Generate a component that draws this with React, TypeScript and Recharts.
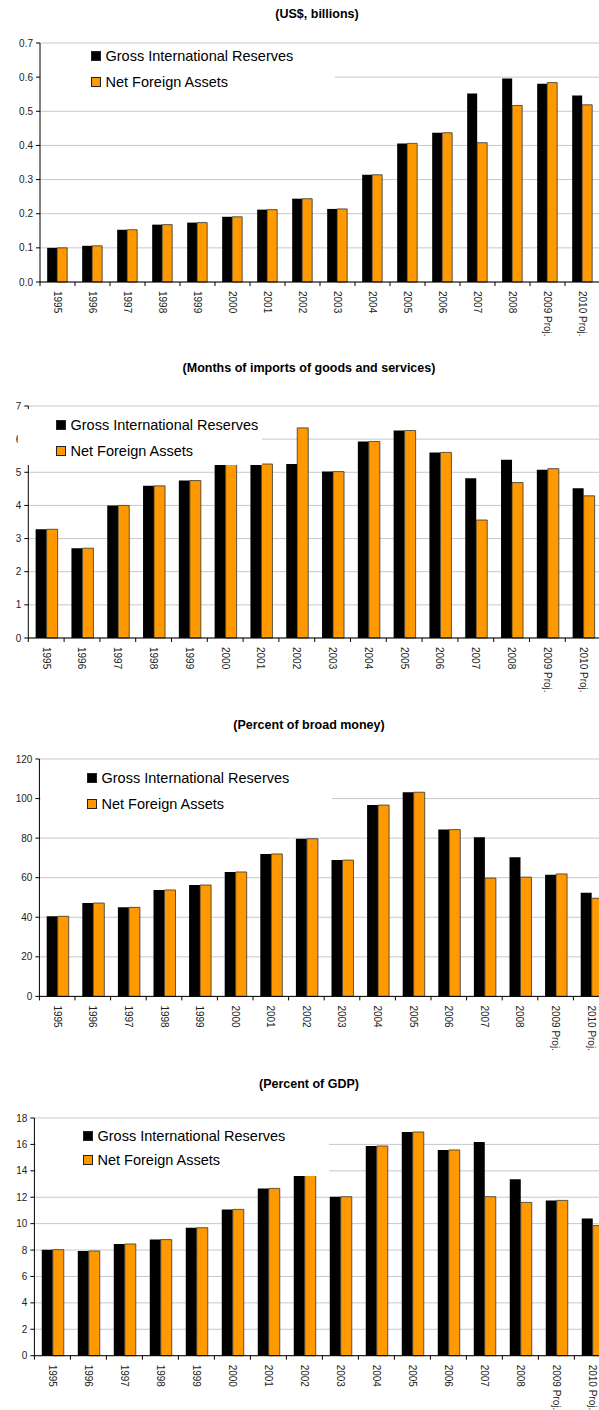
import { BarChart, Bar, XAxis, YAxis, CartesianGrid, Legend } from "recharts";

const years = ["1995", "1996", "1997", "1998", "1999", "2000", "2001", "2002", "2003", "2004", "2005", "2006", "2007", "2008", "2009 Proj.", "2010 Proj."];
const seriesNames = ["Gross International Reserves", "Net Foreign Assets"];

// (US$, billions)
const usdGross = [0.1, 0.106, 0.153, 0.168, 0.174, 0.191, 0.212, 0.244, 0.214, 0.314, 0.406, 0.437, 0.552, 0.596, 0.581, 0.546];
const usdNfa = [0.1, 0.106, 0.153, 0.168, 0.174, 0.191, 0.212, 0.244, 0.214, 0.314, 0.406, 0.437, 0.408, 0.517, 0.584, 0.519];
const usdTicks = [0, 0.1, 0.2, 0.3, 0.4, 0.5, 0.6, 0.7];

// (Months of imports of goods and services)
const monthsGross = [3.28, 2.71, 4.0, 4.59, 4.75, 5.25, 5.25, 5.25, 5.02, 5.93, 6.26, 5.6, 4.82, 5.38, 5.08, 4.52];
const monthsNfa = [3.28, 2.71, 4.0, 4.59, 4.75, 5.25, 5.25, 6.34, 5.02, 5.93, 6.26, 5.6, 3.56, 4.69, 5.11, 4.29];
const monthsTicks = [0, 1, 2, 3, 4, 5, 6, 7];

// (Percent of broad money)
const broadGross = [40.5, 47.2, 45.0, 53.8, 56.3, 62.9, 72.0, 79.7, 68.9, 96.7, 103.2, 84.3, 80.4, 70.3, 61.5, 52.4];
const broadNfa = [40.5, 47.2, 45.0, 53.8, 56.3, 62.9, 72.0, 79.7, 68.9, 96.7, 103.2, 84.3, 59.8, 60.3, 61.9, 49.6];
const broadTicks = [0, 20, 40, 60, 80, 100, 120];

// (Percent of GDP)
const gdpGross = [8.03, 7.93, 8.46, 8.79, 9.69, 11.08, 12.67, 13.91, 12.04, 15.88, 16.94, 15.58, 16.18, 13.36, 11.76, 10.38];
const gdpNfa = [8.03, 7.93, 8.46, 8.79, 9.69, 11.08, 12.67, 13.91, 12.04, 15.88, 16.94, 15.58, 12.04, 11.61, 11.76, 9.85];
const gdpTicks = [0, 2, 4, 6, 8, 10, 12, 14, 16, 18];

const FONT = "'Liberation Sans', Arial, sans-serif";

const build = (gross: number[], nfa: number[]) =>
  years.map((year, i) => ({ year, gross: gross[i], nfa: nfa[i] }));

const panels = [
  {
    title: "(US$, billions)", titleX: 317, titleY: 14,
    data: build(usdGross, usdNfa), ticks: usdTicks, fmt: (v: number) => v.toFixed(1),
    plotTop: 42.7, plotBottom: 281.7, axisX: 40, cat: 35,
    legend: { left: 41, top: 44, width: 294, height: 56, pad: 50, rows: [12, 38] },
  },
  {
    title: "(Months of imports of goods and services)", titleX: 309, titleY: 368,
    data: build(monthsGross, monthsNfa), ticks: monthsTicks, fmt: (v: number) => String(v),
    plotTop: 405.7, plotBottom: 637.7, axisX: 28.3, cat: 35.8,
    legend: { left: 18, top: 409, width: 244, height: 56, pad: 38, rows: [16, 42] },
  },
  {
    title: "(Percent of broad money)", titleX: 309, titleY: 725,
    data: build(broadGross, broadNfa), ticks: broadTicks, fmt: (v: number) => String(v),
    plotTop: 759.3, plotBottom: 996.7, axisX: 39.4, cat: 35.6,
    legend: { left: 41, top: 762, width: 291, height: 56, pad: 46, rows: [16, 42] },
  },
  {
    title: "(Percent of GDP)", titleX: 309, titleY: 1084,
    data: build(gdpGross, gdpNfa), ticks: gdpTicks, fmt: (v: number) => String(v),
    plotTop: 1118.3, plotBottom: 1356, axisX: 34.4, cat: 36,
    legend: { left: 36, top: 1120, width: 293, height: 56, pad: 47, rows: [16, 40] },
  },
];

const YearTick = ({ x, y, payload, index, half, last }: any) => (
  <g>
    <line x1={x - half} x2={x - half} y1={y} y2={y + 4} stroke="#000" />
    {index === last && <line x1={x + half} x2={x + half} y1={y} y2={y + 4} stroke="#000" />}
    <text
      transform={`translate(${x},${y + 9}) rotate(90)`}
      dy="0.35em"
      textAnchor="start"
      fontSize={10}
      fontFamily={FONT}
      fill="#222"
    >
      {payload.value}
    </text>
  </g>
);

const Panel = ({ p }: { p: (typeof panels)[number] }) => {
  const chartTop = p.plotTop - 40;
  const width = p.axisX + 16 * p.cat;
  const height = p.plotBottom - chartTop + 60;
  const lg = p.legend;

  const renderLegend = (props: any) => (
    <div style={{ position: "relative", width: lg.width, height: lg.height, background: "#fff" }}>
      {(props.payload || []).map((entry: any, i: number) => (
        <div
          key={entry.value}
          style={{
            position: "absolute",
            left: lg.pad,
            top: lg.rows[i] - 8,
            height: 16,
            display: "flex",
            alignItems: "center",
            whiteSpace: "nowrap",
            fontFamily: FONT,
            fontSize: 14.5,
            color: "#000",
          }}
        >
          <span
            style={{
              display: "inline-block",
              width: 8,
              height: 8,
              background: i === 0 ? "#000" : "#FF9900",
              border: "1px solid #222",
              marginRight: 4.5,
            }}
          />
          {entry.value}
        </div>
      ))}
    </div>
  );

  return (
    <>
      <div
        style={{
          position: "absolute",
          left: p.titleX - 200,
          width: 400,
          top: p.titleY - 8,
          textAlign: "center",
          fontFamily: FONT,
          fontWeight: "bold",
          fontSize: 12.5,
          lineHeight: "16px",
        }}
      >
        {p.title}
      </div>
      <div style={{ position: "absolute", left: 0, top: chartTop }}>
        <BarChart
          width={width}
          height={height}
          data={p.data}
          margin={{ top: 40, right: 0, bottom: 0, left: 0 }}
          barGap={0}
          barCategoryGap="20.5%"
        >
          <CartesianGrid vertical={false} stroke="#c8c8c8" />
          <XAxis
            dataKey="year"
            interval={0}
            height={60}
            tickLine={false}
            tickSize={0}
            tickMargin={0}
            axisLine={{ stroke: "#000" }}
            tick={<YearTick half={p.cat / 2} last={years.length - 1} />}
          />
          <YAxis
            width={p.axisX}
            domain={[0, p.ticks[p.ticks.length - 1]]}
            ticks={p.ticks}
            interval={0}
            tickFormatter={p.fmt}
            tickSize={4}
            tickMargin={3}
            axisLine={{ stroke: "#000" }}
            tickLine={{ stroke: "#000" }}
            tick={{ fill: "#222", fontSize: 10, fontFamily: FONT }}
          />
          <Legend
            layout="vertical"
            align="center"
            verticalAlign="middle"
            content={renderLegend}
            wrapperStyle={{ left: lg.left, top: lg.top - chartTop, width: lg.width, height: lg.height }}
          />
          <Bar dataKey="gross" name={seriesNames[0]} fill="#000000" isAnimationActive={false} />
          <Bar dataKey="nfa" name={seriesNames[1]} fill="#FF9900" stroke="#333" strokeWidth={0.8} isAnimationActive={false} />
        </BarChart>
      </div>
    </>
  );
};

export default function App() {
  return (
    <div
      style={{
        position: "absolute",
        left: 0,
        top: 0,
        width: 599,
        height: 1410,
        overflow: "hidden",
        background: "#fff",
      }}
    >
      {panels.map((p) => (
        <Panel key={p.title} p={p} />
      ))}
    </div>
  );
}
